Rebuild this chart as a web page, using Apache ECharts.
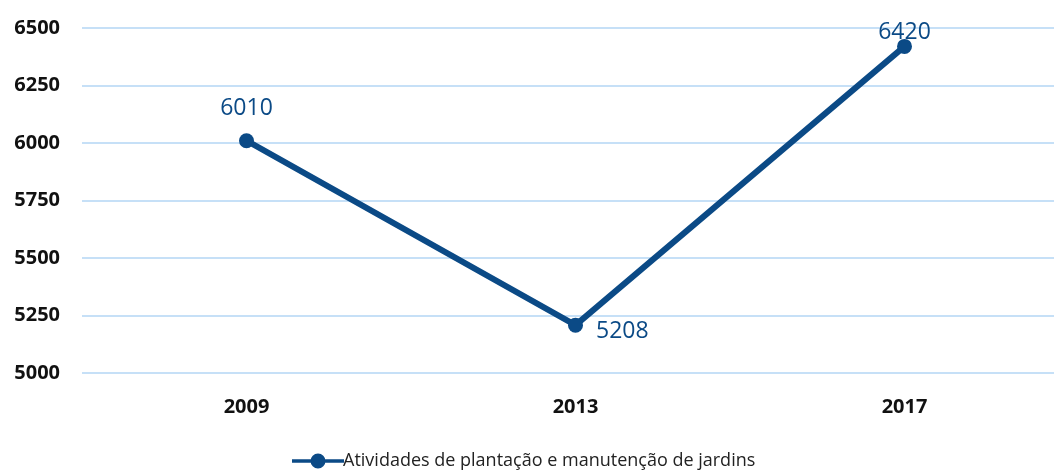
<!DOCTYPE html>
<html>
<head>
<meta charset="utf-8">
<script src="https://cdn.jsdelivr.net/npm/echarts@6/dist/echarts.min.js"></script>
<style>
  html, body { margin: 0; padding: 0; background: #fff; }
  #chart { width: 1054px; height: 471px; }
</style>
</head>
<body>
<div id="chart"></div>
<script>
// Survey years and the value recorded for each
const years = ['2009', '2013', '2017'];
const values = [6010, 5208, 6420];
const seriesName = 'Atividades de plantação e manutenção de jardins';

// Value axis range
const yMin = 5000;
const yMax = 6500;
const yStep = 250;

const lineColor = '#0b4a86';
const labelFont = 'Open Sans, Noto Sans, sans-serif';

// Per-point label placement
const labelPlacement = [
  { position: 'top', distance: 13, offset: [0, 0] },
  { position: 'right', distance: 13, offset: [0, 6] },
  { position: 'top', distance: 0, offset: [0, 5] }
];

const chart = echarts.init(document.getElementById('chart'), null, { renderer: 'canvas' });

chart.setOption({
  backgroundColor: '#ffffff',
  animation: false,
  grid: {
    left: 82,
    top: 28,
    height: 345,
    width: 987,
    containLabel: false,
    outerBoundsMode: 'none'
  },
  legend: {
    left: 287,
    top: 447,
    itemWidth: 52,
    itemHeight: 15,
    itemGap: 4,
    // line with a dot in the middle
    icon: 'path://M0,5.7 L52,5.7 L52,9.3 L0,9.3 Z M18.5,7.5 A7.5,7.5 0 1,1 33.5,7.5 A7.5,7.5 0 1,1 18.5,7.5 Z',
    textStyle: { color: '#222', fontSize: 18, fontFamily: labelFont, padding: [0, 0, 0, -6] },
    data: [{ name: seriesName }]
  },
  xAxis: {
    type: 'category',
    data: years,
    boundaryGap: true,
    axisLine: { show: false },
    axisTick: { show: false },
    axisLabel: {
      color: '#111',
      fontWeight: 'bold',
      fontSize: 20,
      fontFamily: labelFont,
      margin: 24
    },
    splitLine: { show: false }
  },
  yAxis: {
    type: 'value',
    min: yMin,
    max: yMax,
    interval: yStep,
    axisLine: { show: false },
    axisTick: { show: false },
    axisLabel: {
      color: '#111',
      fontWeight: 'bold',
      fontSize: 20,
      fontFamily: labelFont,
      margin: 22,
      formatter: (v) => String(v)
    },
    splitLine: { lineStyle: { color: '#c6e0f7', width: 2 } }
  },
  series: [{
    name: seriesName,
    type: 'line',
    data: values.map((v, i) => ({
      value: v,
      label: {
        position: labelPlacement[i].position,
        distance: labelPlacement[i].distance,
        offset: labelPlacement[i].offset
      }
    })),
    symbol: 'circle',
    symbolSize: 15,
    lineStyle: { color: lineColor, width: 6 },
    itemStyle: { color: lineColor },
    label: {
      show: true,
      color: lineColor,
      fontSize: 23,
      fontFamily: labelFont
    }
  }]
});
</script>
</body>
</html>
